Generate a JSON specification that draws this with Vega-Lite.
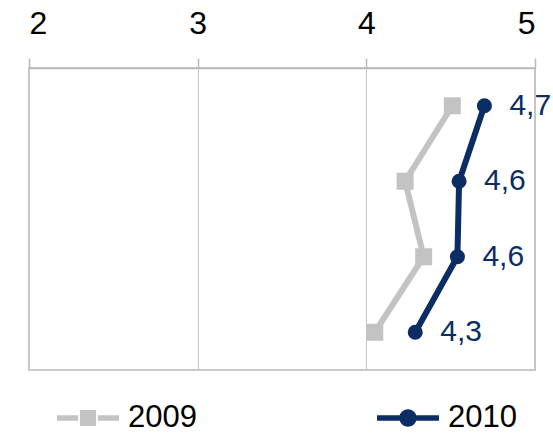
{
  "$schema": "https://vega.github.io/schema/vega-lite/v6.json",
  "width": 506,
  "height": 302,
  "autosize": {"type": "none"},
  "padding": {"left": 29, "top": 68, "right": 18, "bottom": 64},
  "background": "white",
  "config": {
    "font": "Liberation Sans",
    "view": {"stroke": "#b8b8b8", "strokeWidth": 1.5}
  },
  "data": {
    "values": [
      {"cat": 1, "series": "2009", "value": 4.51, "label": ""},
      {"cat": 2, "series": "2009", "value": 4.23, "label": ""},
      {"cat": 3, "series": "2009", "value": 4.34, "label": ""},
      {"cat": 4, "series": "2009", "value": 4.05, "label": ""},
      {"cat": 1, "series": "2010", "value": 4.70, "label": "4,7"},
      {"cat": 2, "series": "2010", "value": 4.55, "label": "4,6"},
      {"cat": 3, "series": "2010", "value": 4.54, "label": "4,6"},
      {"cat": 4, "series": "2010", "value": 4.29, "label": "4,3"}
    ]
  },
  "encoding": {
    "x": {
      "field": "value",
      "type": "quantitative",
      "scale": {"domain": [2, 5], "nice": false, "zero": false},
      "axis": {
        "orient": "top",
        "values": [2, 3, 4, 5],
        "title": null,
        "labelFontSize": 32,
        "labelColor": "#000000",
        "labelFont": "Liberation Sans",
        "labelPadding": 18,
        "tickSize": 10,
        "tickColor": "#b8b8b8",
        "tickWidth": 1.5,
        "domainColor": "#b8b8b8",
        "domainWidth": 1.5,
        "gridColor": "#c4c4c4",
        "gridWidth": 1
      }
    },
    "y": {
      "field": "cat",
      "type": "ordinal",
      "scale": {"type": "point", "padding": 0.5},
      "axis": null
    },
    "color": {
      "field": "series",
      "type": "nominal",
      "scale": {"domain": ["2009", "2010"], "range": ["#c3c3c3", "#0b2d63"]},
      "legend": {
        "title": null,
        "orient": "none",
        "direction": "horizontal",
        "legendX": 28,
        "legendY": 319,
        "labelFontSize": 31,
        "labelColor": "#000000",
        "labelFont": "Liberation Sans",
        "labelOffset": 9,
        "columnPadding": 180,
        "symbolSize": 3844,
        "symbolStrokeWidth": 0,
        "symbolOpacity": 1
      }
    }
  },
  "layer": [
    {
      "mark": {"type": "line", "strokeWidth": 6},
      "encoding": {
        "order": {"field": "cat", "type": "quantitative"}
      }
    },
    {
      "transform": [{"filter": "datum.series === '2009'"}],
      "mark": {"type": "point", "filled": true, "opacity": 1, "shape": "square", "size": 289}
    },
    {
      "transform": [{"filter": "datum.series === '2010'"}],
      "mark": {"type": "point", "filled": true, "opacity": 1, "shape": "circle", "size": 227}
    },
    {
      "transform": [{"filter": "false"}],
      "mark": {"type": "point", "filled": true, "opacity": 1},
      "encoding": {
        "shape": {
          "field": "series",
          "type": "nominal",
          "scale": {
            "domain": ["2009", "2010"],
            "range": [
              "M-1,-0.09H-0.32V0.09H-1Z M0.32,-0.09H1V0.09H0.32Z M-0.26,-0.26H0.26V0.26H-0.26Z",
              "M-1,-0.09H-0.27V0.09H-1Z M0.27,-0.09H1V0.09H0.27Z M0.28,0A0.28,0.28 0 1,1 -0.28,0A0.28,0.28 0 1,1 0.28,0Z"
            ]
          },
          "legend": {
            "title": null,
            "orient": "none",
            "direction": "horizontal",
            "legendX": 28,
            "legendY": 319,
            "labelFontSize": 31,
            "labelColor": "#000000",
            "labelFont": "Liberation Sans",
            "labelOffset": 9,
            "columnPadding": 180,
            "symbolSize": 3844,
            "symbolStrokeWidth": 0,
            "symbolOpacity": 1
          }
        }
      }
    },
    {
      "transform": [{"filter": "datum.series === '2010'"}],
      "mark": {
        "type": "text",
        "align": "left",
        "baseline": "middle",
        "dx": 25,
        "fontSize": 30,
        "font": "Liberation Sans",
        "color": "#0b2d63"
      },
      "encoding": {
        "text": {"field": "label", "type": "nominal"},
        "color": {"value": "#0b2d63"}
      }
    }
  ]
}
